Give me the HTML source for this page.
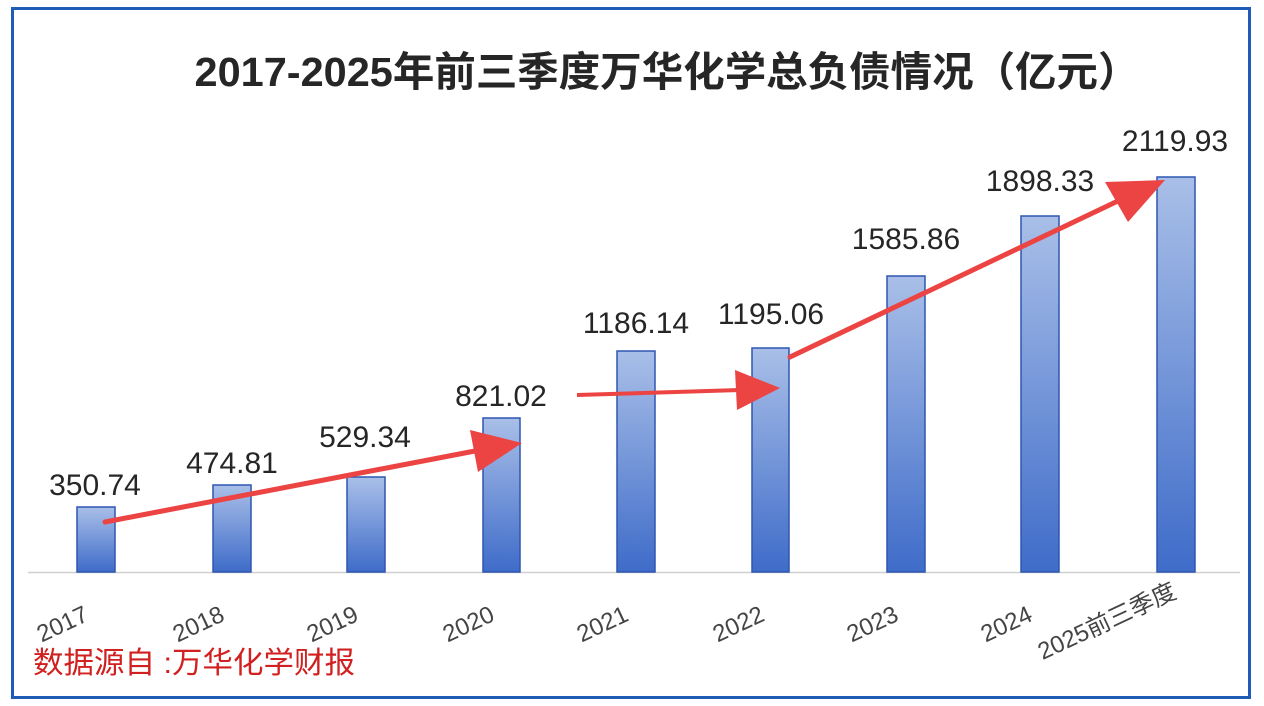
<!DOCTYPE html>
<html><head><meta charset="utf-8"><style>
body{margin:0;background:#fff;width:1264px;height:706px;overflow:hidden}
svg{display:block}
text{font-family:"Liberation Sans","Noto Sans CJK SC",sans-serif}
</style></head><body>
<svg width="1264" height="706" viewBox="0 0 1264 706">
<defs>
<linearGradient id="g" x1="0" y1="0" x2="0" y2="1">
<stop offset="0" stop-color="#a9bfe8"/><stop offset="1" stop-color="#3f6cc9"/>
</linearGradient>
</defs>
<rect x="12.5" y="8.5" width="1237" height="689" fill="#fff" stroke="#1f5cb8" stroke-width="3"/>
<text x="667" y="86" font-size="41" font-weight="bold" fill="#262626" text-anchor="middle" textLength="945" lengthAdjust="spacingAndGlyphs">2017-2025年前三季度万华化学总负债情况（亿元）</text>
<line x1="28" y1="572.5" x2="1240" y2="572.5" stroke="#cfcfcf" stroke-width="1.5"/>
<g fill="url(#g)" stroke="#2f56b0" stroke-width="1.5">
<rect x="77" y="507" width="38" height="65"/>
<rect x="213" y="485" width="38" height="87"/>
<rect x="347" y="477" width="38" height="95"/>
<rect x="483" y="418" width="37" height="154"/>
<rect x="617" y="351" width="38" height="221"/>
<rect x="752" y="348" width="37" height="224"/>
<rect x="887" y="276" width="38" height="296"/>
<rect x="1021" y="216" width="38" height="356"/>
<rect x="1157" y="177" width="38" height="395"/>
</g>
<g font-size="30" fill="#262626" text-anchor="middle">
<text x="95" y="495">350.74</text>
<text x="232" y="473">474.81</text>
<text x="365" y="447">529.34</text>
<text x="501" y="406">821.02</text>
<text x="636" y="333">1186.14</text>
<text x="771" y="324">1195.06</text>
<text x="906" y="249">1585.86</text>
<text x="1040" y="191">1898.33</text>
<text x="1175" y="151">2119.93</text>
</g>
<g font-size="24" fill="#444" text-anchor="end">
<text transform="translate(90,620) rotate(-25)">2017</text>
<text transform="translate(226,620) rotate(-25)">2018</text>
<text transform="translate(360,620) rotate(-25)">2019</text>
<text transform="translate(496,620) rotate(-25)">2020</text>
<text transform="translate(630,620) rotate(-25)">2021</text>
<text transform="translate(766,620) rotate(-25)">2022</text>
<text transform="translate(900,620) rotate(-25)">2023</text>
<text transform="translate(1034,620) rotate(-25)">2024</text>
<text transform="translate(1178,597) rotate(-25)">2025前三季度</text>
</g>
<text x="33" y="673" font-size="30" fill="#d0201f" textLength="322" lengthAdjust="spacingAndGlyphs">数据源自 :万华化学财报</text>
<g stroke="#ec4343" fill="none">
<path d="M105,522 L475,451" stroke-width="5" stroke-linecap="round"/>
<polygon points="470,430 522,443 478,472" fill="#ec4343" stroke="none"/>
<path d="M577,395 L740,390" stroke-width="4"/>
<polygon points="735,370 780,388 737,410" fill="#ec4343" stroke="none"/>
<path d="M790,357 L1120,200" stroke-width="5" stroke-linecap="round"/>
<polygon points="1105,182 1165,180 1128,222" fill="#ec4343" stroke="none"/>
</g>
</svg>
</body></html>
